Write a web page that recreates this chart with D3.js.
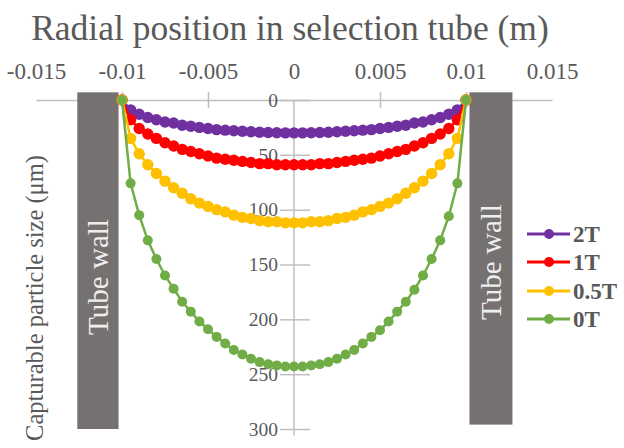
<!DOCTYPE html>
<html>
<head>
<meta charset="utf-8">
<script src="https://cdn.jsdelivr.net/npm/d3@7"></script>
<style>
  body { margin: 0; background: #fff; }
  text { font-family: "Liberation Serif", "DejaVu Serif", serif; }
</style>
</head>
<body>
<script>
const svgW = 624;
const svgH = 448;

// radial positions (m), step 0.0005 from -0.01 to 0.01
const positions = d3.range(41).map(i => +(-0.01 + i * 0.0005).toFixed(4));

// capturable particle size (um)
const size2T = [0, 9, 13, 16, 18, 20, 21, 23, 24, 25, 26, 27, 27.5, 28, 28.5, 29, 29.4, 29.7, 29.8, 30,
  30,
  30, 29.8, 29.7, 29.4, 29, 28.5, 28, 27.5, 27, 26, 25, 24, 23, 21, 20, 18, 16, 13, 9, 0];
const size1T = [0, 18, 26, 31, 35, 39, 42, 45, 47, 49, 51, 53, 54, 55, 56, 57, 58, 58, 59, 59,
  59,
  59, 59, 58, 58, 57, 56, 55, 54, 53, 51, 49, 47, 45, 42, 39, 35, 31, 26, 18, 0];
const size05T = [0, 35, 49, 59, 67, 74, 80, 85, 90, 94, 97, 100, 102, 105, 107, 108, 110, 111, 111, 112,
  112,
  112, 111, 111, 110, 108, 107, 105, 102, 100, 97, 94, 90, 85, 80, 74, 67, 59, 49, 35, 0];
const size0T = [0, 76, 105, 128, 145, 160, 172, 184, 193, 202, 209, 216, 222, 228, 232, 236, 239, 241, 242, 243,
  243,
  243, 242, 241, 239, 236, 232, 228, 222, 216, 210, 202, 193, 184, 173, 160, 145, 128, 106, 76, 0];

const seriesNames = ['2T', '1T', '0.5T', '0T'];
const seriesValues = [size2T, size1T, size05T, size0T];
const seriesColors = ['#7030A0', '#FF0000', '#FFC000', '#70AD47'];

const xTicks = [-0.015, -0.01, -0.005, 0, 0.005, 0.01, 0.015];
const yTicks = [0, 50, 100, 150, 200, 250, 300];

// tube walls in metres
const walls = [[-0.0126, -0.0102], [0.0102, 0.0127]];

const textColor = '#595959';
const gridColor = '#bfbfbf';

const svg = d3.select('body')
  .append('svg')
  .attr('width', svgW)
  .attr('height', svgH);

const x = d3.scaleLinear().domain([-0.015, 0.015]).range([36, 552]);
const y = d3.scaleLinear().domain([0, 300]).range([100, 429]);

// title
svg.append('text')
  .attr('x', 290)
  .attr('y', 40)
  .attr('text-anchor', 'middle')
  .attr('font-size', 35.5)
  .attr('fill', textColor)
  .text('Radial position in selection tube (m)');

// top axis
const xAxis = svg.append('g')
  .attr('transform', `translate(0, ${y(0)})`)
  .call(d3.axisTop(x).tickValues(xTicks).tickFormat(d => String(d)).tickSize(0).tickPadding(21));
xAxis.select('.domain').attr('stroke', gridColor).attr('stroke-width', 1.5);
xAxis.selectAll('.tick text').attr('font-size', 23).attr('fill', textColor)
  .attr('font-family', '"Liberation Serif", serif');
xAxis.selectAll('.tick').filter(d => d !== 0 && Math.abs(d) < 0.015)
  .append('line').attr('y1', -8).attr('y2', 8)
  .attr('stroke', gridColor).attr('stroke-width', 1.5);

// centre axis
const yAxis = svg.append('g')
  .attr('transform', `translate(${x(0)}, 0)`)
  .call(d3.axisLeft(y).tickValues(yTicks).tickSize(0).tickPadding(16));
yAxis.select('.domain').remove();
yAxis.append('line')
  .attr('y1', y(0)).attr('y2', y(306))
  .attr('stroke', gridColor).attr('stroke-width', 1.5);
yAxis.selectAll('.tick').append('line')
  .attr('x1', -14).attr('x2', 16)
  .attr('stroke', gridColor).attr('stroke-width', 1.5);
yAxis.selectAll('.tick text').attr('font-size', 19.5).attr('fill', textColor)
  .attr('font-family', '"Liberation Serif", serif');

// y title
svg.append('text')
  .attr('transform', 'translate(43, 298) rotate(-90)')
  .attr('text-anchor', 'middle')
  .attr('font-size', 24.5)
  .attr('fill', textColor)
  .text('Capturable particle size (μm)');

// walls
svg.selectAll('rect.wall')
  .data(walls)
  .enter()
  .append('rect')
  .attr('class', 'wall')
  .attr('x', d => x(d[0]))
  .attr('y', y(-7))
  .attr('width', d => x(d[1]) - x(d[0]))
  .attr('height', (d, i) => y(i === 0 ? 300 : 296) - y(-7))
  .attr('fill', '#767171');

svg.selectAll('text.wall')
  .data(walls)
  .enter()
  .append('text')
  .attr('class', 'wall')
  .attr('transform', (d, i) => `translate(${(x(d[0]) + x(d[1])) / 2 + 10}, ${i === 0 ? 277 : 262}) rotate(-90)`)
  .attr('text-anchor', 'middle')
  .attr('font-size', 29)
  .attr('fill', '#eeeeee')
  .text('Tube wall');

// series
const line = d3.line()
  .x((d, i) => x(positions[i]))
  .y(d => y(d));

seriesValues.forEach((vals, k) => {
  const g = svg.append('g');
  g.append('path')
    .datum(vals)
    .attr('d', line)
    .attr('fill', 'none')
    .attr('stroke', seriesColors[k])
    .attr('stroke-width', 2.5);
  g.selectAll('circle')
    .data(vals)
    .enter()
    .append('circle')
    .attr('cx', (d, i) => x(positions[i]))
    .attr('cy', d => y(d))
    .attr('r', k === 3 ? 5 : 5.7)
    .attr('fill', seriesColors[k]);
});

// legend
const legendY = [234, 262, 291, 319];
const legend = svg.selectAll('g.legend')
  .data(seriesNames)
  .enter()
  .append('g')
  .attr('class', 'legend')
  .attr('transform', (d, i) => `translate(527, ${legendY[i]})`);
legend.append('line')
  .attr('x1', 0).attr('x2', 43)
  .attr('stroke', (d, i) => seriesColors[i])
  .attr('stroke-width', 3);
legend.append('circle')
  .attr('cx', 22).attr('r', 5)
  .attr('fill', (d, i) => seriesColors[i]);
legend.append('text')
  .attr('x', 46)
  .attr('dy', '0.35em')
  .attr('font-size', 23)
  .attr('font-weight', 'bold')
  .attr('fill', textColor)
  .text(d => d);
</script>
</body>
</html>
